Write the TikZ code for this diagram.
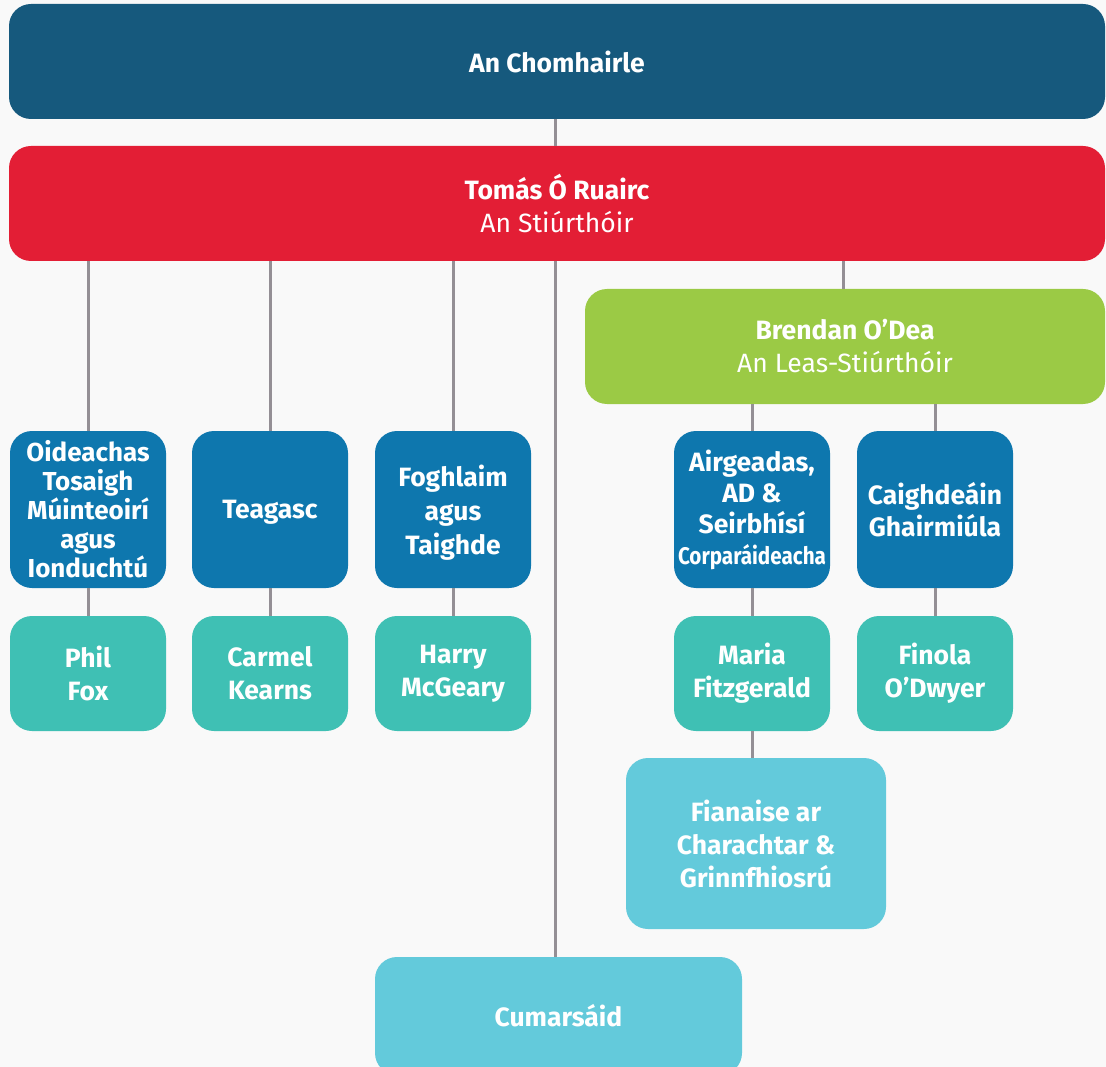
\documentclass[tikz,border=0pt]{standalone}
\usepackage{fontspec}
\setmainfont{Fira Sans}
\usepackage{graphicx}
\definecolor{bgc}{HTML}{F9F9F9}
\definecolor{navy}{HTML}{16597D}
\definecolor{redc}{HTML}{E31E35}
\definecolor{greenc}{HTML}{9BCA45}
\definecolor{bluec}{HTML}{0E77AE}
\definecolor{tealc}{HTML}{3FC0B4}
\definecolor{cyanc}{HTML}{63CADB}
\definecolor{linec}{HTML}{948F95}
\tikzset{
  box/.style={rounded corners=22pt, inner sep=0pt, text=white, align=center,
    font=\fontsize{26.5}{33}\selectfont\bfseries},
  conn/.style={draw=linec, line width=3pt}
}
\begin{document}
\begin{tikzpicture}[x=1pt,y=-1pt]
\useasboundingbox (0,0) rectangle (1106,1067);
\clip (0,0) rectangle (1106,1067);
\fill[bgc] (0,0) rectangle (1106,1067);
% top
\node[box, fill=navy, minimum width=1096pt, minimum height=115pt] (chom) at (557,61.5) {An Chomhairle};
\node[box, fill=redc, minimum width=1096pt, minimum height=115pt] (tomas) at (557,203.5)
  {Tomás Ó Ruairc\\\mdseries An Stiúrthóir};
\node[box, fill=greenc, minimum width=520pt, minimum height=115pt] (brendan) at (845,346.5)
  {Brendan O’Dea\\\mdseries An Leas-Stiúrthóir};
% row 2
\node[box, fill=bluec, minimum width=156pt, minimum height=157pt, font=\fontsize{26}{29}\selectfont\bfseries] (oid) at (88,509.5)
  {Oideachas\\Tosaigh\\Múinteoirí\\agus\\Ionduchtú};
\node[box, fill=bluec, minimum width=156pt, minimum height=157pt, text depth=0pt] (teag) at (270,509.5) {Teagasc};
\node[box, fill=bluec, minimum width=156pt, minimum height=157pt, text depth=0pt, font=\fontsize{26.5}{34}\selectfont\bfseries] (fogh) at (453,509.5)
  {Foghlaim\\agus\\Taighde};
\node[box, fill=bluec, minimum width=156pt, minimum height=157pt, font=\fontsize{26.5}{31}\selectfont\bfseries] (airg) at (752,509.5)
  {Airgeadas,\\AD \&\\Seirbhísí\\{\fontsize{24}{31}\selectfont\resizebox{148pt}{\height}{Corparáideacha}}};
\node[box, fill=bluec, minimum width=156pt, minimum height=157pt, font=\fontsize{26.5}{32}\selectfont\bfseries] (caig) at (935,509.5)
  {Caighdeáin\\Ghairmiúla};
% row 3
\node[box, fill=tealc, minimum width=156pt, minimum height=115pt] (phil) at (88,673.5) {Phil\\Fox};
\node[box, fill=tealc, minimum width=156pt, minimum height=115pt] (carmel) at (270,673.5) {Carmel\\Kearns};
\node[box, fill=tealc, minimum width=156pt, minimum height=115pt] (harry) at (453,673.5) {Harry\\McGeary};
\node[box, fill=tealc, minimum width=156pt, minimum height=115pt] (maria) at (752,673.5) {Maria\\Fitzgerald};
\node[box, fill=tealc, minimum width=156pt, minimum height=115pt] (finola) at (935,673.5) {Finola\\O’Dwyer};
% lower
\node[box, fill=cyanc, minimum width=260pt, minimum height=171pt] (fian) at (756,843.5)
  {Fianaise ar\\Charachtar \&\\Grinnfhiosrú};
\node[box, fill=cyanc, minimum width=367pt, minimum height=118pt] (cumar) at (558.5,1016) {Cumarsáid};
% connectors
\draw[conn] (chom.south -| 555,0) -- (tomas.north -| 555,0);
\draw[conn] (tomas.south -| oid.north) -- (oid.north);
\draw[conn] (tomas.south -| teag.north) -- (teag.north);
\draw[conn] (tomas.south -| fogh.north) -- (fogh.north);
\draw[conn] (tomas.south -| 555,0) -- (cumar.north -| 555,0);
\draw[conn] (tomas.south -| 843,0) -- (brendan.north -| 843,0);
\draw[conn] (brendan.south -| airg.north) -- (airg.north);
\draw[conn] (brendan.south -| caig.north) -- (caig.north);
\draw[conn] (oid.south) -- (phil.north);
\draw[conn] (teag.south) -- (carmel.north);
\draw[conn] (fogh.south) -- (harry.north);
\draw[conn] (airg.south) -- (maria.north);
\draw[conn] (caig.south) -- (finola.north);
\draw[conn] (maria.south) -- (maria.south |- fian.north);
\end{tikzpicture}
\end{document}
